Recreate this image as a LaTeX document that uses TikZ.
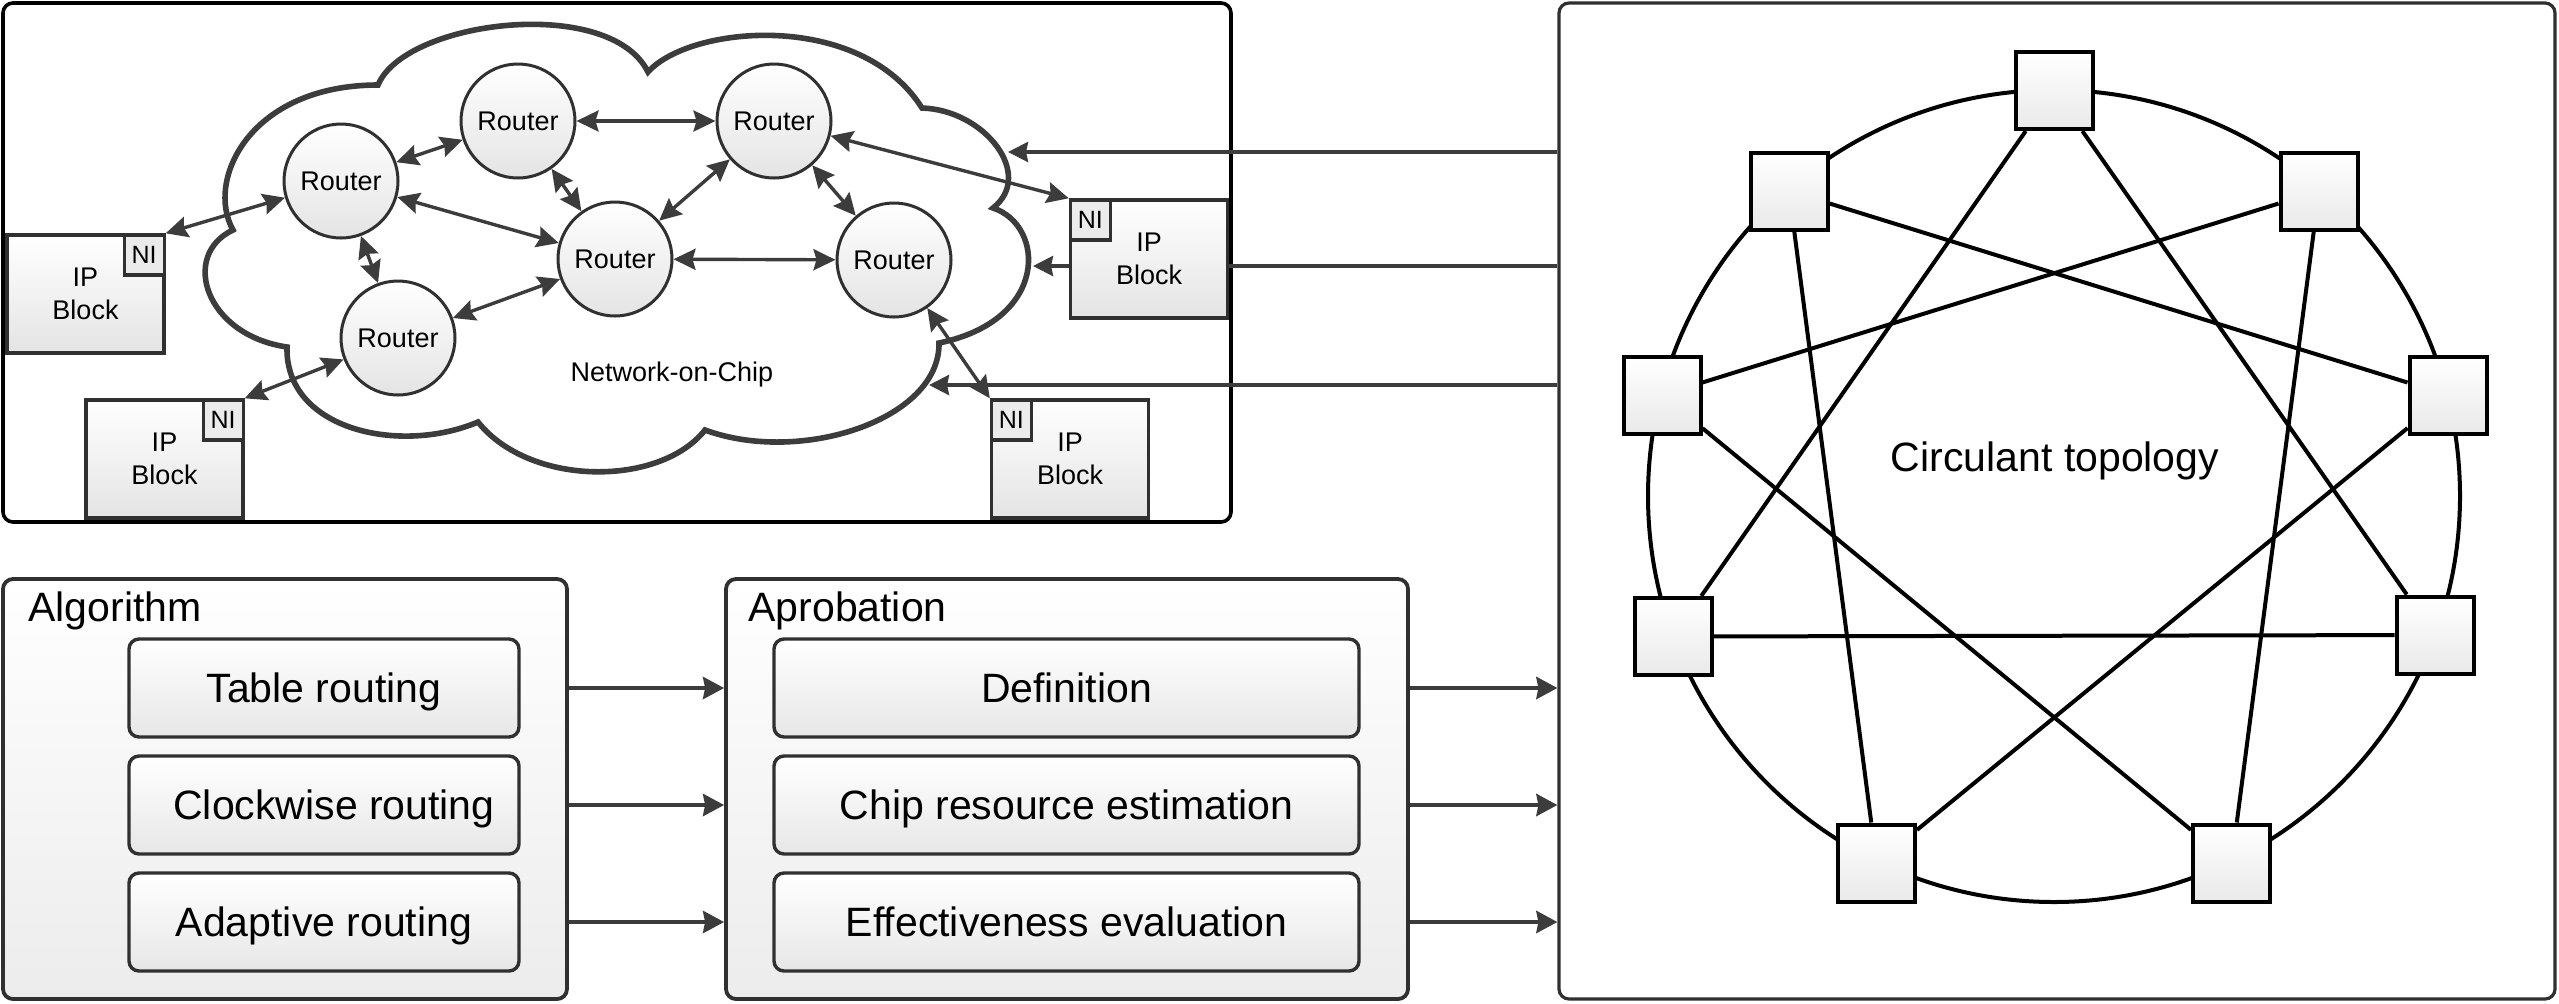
\documentclass[tikz,border=0pt]{standalone}
\usepackage{fontspec}
\setmainfont{Liberation Sans}
\usetikzlibrary{arrows.meta}
\definecolor{dk}{HTML}{3C3C3C}
\definecolor{bd}{HTML}{303030}
\definecolor{shb}{HTML}{E4E4E4}
\begin{document}
\begin{tikzpicture}[x=0.5pt,y=-0.5pt,
  panel/.style={draw=black, line width=1.8pt, rounded corners=5pt, fill=white, inner sep=0pt},
  group/.style={draw=bd, line width=1.9pt, rounded corners=5pt, top color=white, bottom color=shb!70, inner sep=0pt},
  item/.style={draw=bd, line width=1.7pt, rounded corners=5pt, top color=white, bottom color=shb!90, inner sep=0pt, minimum height=49pt, text height=14.7pt, text depth=0pt, font=\fontsize{20.5pt}{24pt}\selectfont},
  grouptitle/.style={anchor=base west, inner sep=0pt, font=\fontsize{20.5pt}{24pt}\selectfont},
  router/.style={circle, draw=bd, line width=1.5pt, top color=white, bottom color=shb, minimum size=57pt, inner sep=0pt, font=\fontsize{13.5pt}{16pt}\selectfont},
  ipblock/.style={rectangle, draw=bd, line width=1.7pt, top color=white, bottom color=shb, minimum width=78.5pt, minimum height=59pt, inner sep=0pt, align=center, font=\fontsize{13.5pt}{16.5pt}\selectfont},
  nibox/.style={rectangle, draw=bd, line width=1.6pt, fill=white!92!black, minimum size=20pt, inner sep=0pt, font=\fontsize{12.5pt}{14pt}\selectfont},
  biarr/.style={{Stealth[length=11pt,width=10.5pt,inset=1.5pt]}-{Stealth[length=11pt,width=10.5pt,inset=1.5pt]}, draw=dk, line width=1.7pt, fill=dk},
  flow/.style={-{Stealth[length=10.5pt,width=11pt,inset=1pt]}, draw=dk, line width=2.1pt},
  feed/.style={-{Stealth[length=10pt,width=10pt,inset=1pt]}, draw=dk, line width=1.9pt},
  sq/.style={rectangle, draw=black, line width=2pt, top color=white, bottom color=shb!80, minimum size=38.5pt, inner sep=0pt},
  chord/.style={draw=black, line width=2pt}
]
\path[use as bounding box] (0,0) rectangle (2559,1003);

% panels
\node[panel, minimum width=614pt, minimum height=259.5pt] (noc) at (617,262.5) {};
\node[panel, draw=bd, line width=1.6pt, minimum width=498pt, minimum height=498pt] (cp) at (2057,501) {};
\node[group, minimum width=282pt, minimum height=210pt] (alg) at (285,789) {};
\node[group, minimum width=341pt, minimum height=210pt] (apr) at (1067,789) {};

\node[grouptitle] (algt) at (28,621) {Algorithm};
\node[grouptitle] (aprt) at (748,621) {Aprobation};

\node[item, minimum width=195pt] (a1) at (324,688) {Table routing};
\node[item, minimum width=195pt] (a2) at (324,805) {\hspace*{10pt}Clockwise routing};
\node[item, minimum width=195pt] (a3) at (324,922) {Adaptive routing};
\node[item, minimum width=292.5pt] (b1) at (1066.5,688) {Definition};
\node[item, minimum width=292.5pt] (b2) at (1066.5,805) {Chip resource estimation};
\node[item, minimum width=292.5pt] (b3) at (1066.5,922) {Effectiveness evaluation};

\foreach \i in {1,2,3}{
  \draw[flow] (a\i.east -| alg.east) -- (a\i.east -| apr.west);
  \draw[flow] (b\i.east -| apr.east) -- (b\i.east -| cp.west);
}

% cloud
\draw[dk, line width=2.8pt] (378,85)
  .. controls (405,20) and (610,-5) .. (648,72)
  .. controls (690,25) and (860,10) .. (922,108)
  .. controls (985,110) and (1035,175) .. (993,208)
  .. controls (1045,225) and (1050,320) .. (939,343)
  .. controls (940,420) and (800,465) .. (705,430)
  .. controls (660,487) and (530,487) .. (478,422)
  .. controls (400,455) and (285,430) .. (287,347)
  .. controls (205,335) and (180,255) .. (233,230)
  .. controls (205,180) and (250,85) .. (378,85) -- cycle;
\node[inner sep=0pt, font=\fontsize{13.5pt}{16pt}\selectfont] (noclabel) at (672,375) {Network-on-Chip};

\coordinate (cl1) at (1008,152);
\coordinate (cl2) at (1033,266);
\coordinate (cl3) at (929,385);
\draw[feed] (cp.west |- cl1) -- (cl1);
\draw[feed] (cp.west |- cl2) -- (cl2);
\draw[feed] (cp.west |- cl3) -- (cl3);

% routers
\node[router] (r1) at (341,181) {Router};
\node[router] (r2) at (518,121) {Router};
\node[router] (r3) at (774,121) {Router};
\node[router] (r4) at (615,259) {Router};
\node[router] (r5) at (894,260) {Router};
\node[router] (r6) at (398,338) {Router};

% IP blocks
\node[ipblock] (ip1) at (85.5,294) {IP\\Block};
\node[ipblock] (ip2) at (164.5,459) {IP\\Block};
\node[ipblock] (ip3) at (1149,259) {IP\\Block};
\node[ipblock] (ip4) at (1070,459) {IP\\Block};
\node[nibox, anchor=north east] (ni1) at (ip1.north east) {NI};
\node[nibox, anchor=north east] (ni2) at (ip2.north east) {NI};
\node[nibox, anchor=north west] (ni3) at (ip3.north west) {NI};
\node[nibox, anchor=north west] (ni4) at (ip4.north west) {NI};

% router links
\draw[biarr] (ni1.north east) -- (r1);
\draw[biarr] (ni2.north east) -- (r6);
\draw[biarr] (ni3.north west) -- (r3);
\draw[biarr] (ni4.north west) -- (r5);
\draw[biarr] (r1) -- (r2);
\draw[biarr] (r2) -- (r3);
\draw[biarr] (r1) -- (r4);
\draw[biarr] (r1) -- (r6);
\draw[biarr] (r2) -- (r4);
\draw[biarr] (r3) -- (r4);
\draw[biarr] (r3) -- (r5);
\draw[biarr] (r4) -- (r5);
\draw[biarr] (r4) -- (r6);

% circulant topology
\node[circle, draw=black, line width=2pt, minimum size=406pt, inner sep=0pt] (ring) at (2054,496) {};
\node[inner sep=0pt, font=\fontsize{20.5pt}{24pt}\selectfont] (ctlabel) at (2055,461) {Circulant topology};
\node[sq] (s1) at (2054,90.5) {};
\node[sq] (s2) at (2319,191) {};
\node[sq] (s3) at (2448,395) {};
\node[sq] (s4) at (2435,635) {};
\node[sq] (s5) at (2231.5,863) {};
\node[sq] (s6) at (1876.5,863) {};
\node[sq] (s7) at (1673,636.5) {};
\node[sq] (s8) at (1662,395) {};
\node[sq] (s9) at (1789,191) {};
\foreach \a/\b in {1/4,1/7,2/5,2/8,3/6,3/9,4/7,5/8,6/9}{
  \draw[chord] (s\a) -- (s\b);
}
\end{tikzpicture}
\end{document}
